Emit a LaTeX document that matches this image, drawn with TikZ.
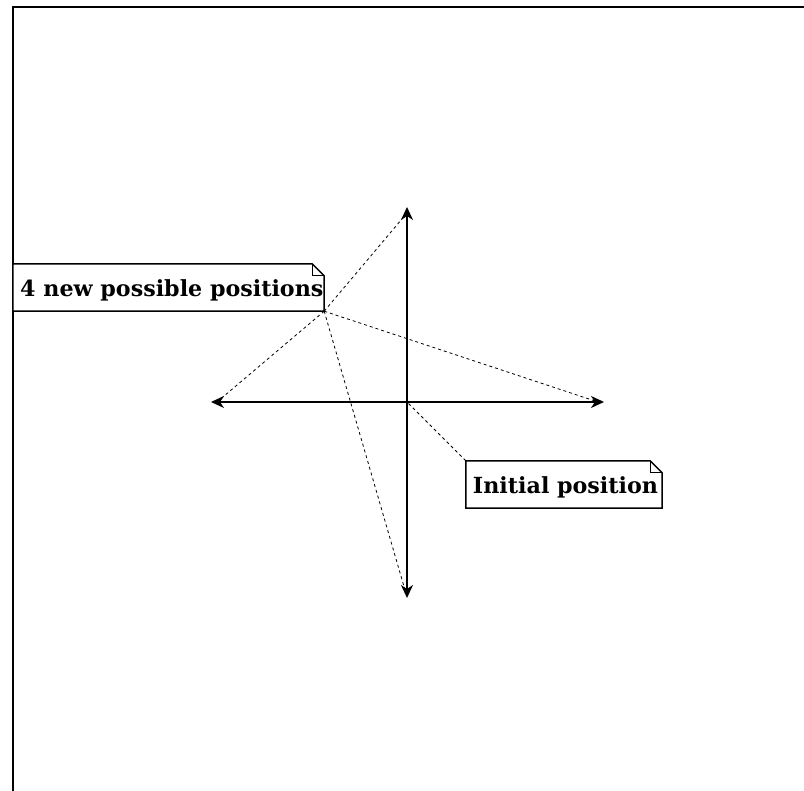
\documentclass[tikz,border=0pt]{standalone}
\usepackage{fontspec}
\setmainfont{DejaVu Serif}
\usetikzlibrary{arrows.meta}
\begin{document}
\begin{tikzpicture}[x=1pt,y=1pt,
  axis/.style={line width=1.5pt,-{Stealth[length=13pt,width=12pt,inset=4pt]}},
  guide/.style={line width=0.8pt,dash pattern=on 3pt off 3pt},
  notebox/.style={draw=none,inner sep=0pt},
  notetext/.style={inner sep=0pt,font=\bfseries\fontsize{22.2}{26}\selectfont}
]
\useasboundingbox (0,0) rectangle (804,791);
% frame
\coordinate (fbl) at (13,0);
\coordinate (ftl) at (13,784);
\coordinate (ftr) at (804,784);
\draw[line width=1.6pt] (fbl) -- (ftl) -- (ftr);
% axes
\coordinate (c) at (407,389);
\coordinate (up) at (407,584);
\coordinate (dn) at (407,193);
\coordinate (lf) at (211,389);
\coordinate (rt) at (604,389);
\draw[axis] (c) -- (up);
\draw[axis] (c) -- (dn);
\draw[axis] (c) -- (lf);
\draw[axis] (c) -- (rt);
% notes
\node[notebox,minimum width=311pt,minimum height=47pt] (n1) at (168.5,503.5) {};
\node[notebox,minimum width=196pt,minimum height=47pt] (n2) at (564,306.5) {};
\foreach \n in {n1,n2}{
  \draw[line width=1.5pt,fill=white] (\n.south west) -- (\n.north west) -- ([xshift=-12pt]\n.north east)
    -- ([yshift=-12pt]\n.north east) -- (\n.south east) -- cycle;
  \draw[line width=0.8pt] ([xshift=-12pt]\n.north east) |- ([yshift=-12pt]\n.north east);
}
\node[notetext,anchor=west] (t1) at (20,501) {4 new possible positions};
\node[notetext] (t2) at (565.5,304) {Initial position};
% guides
\draw[guide] (n1.south east) -- ([yshift=-6pt]up);
\draw[guide] (n1.south east) -- ([xshift=6pt]lf);
\draw[guide] (n1.south east) -- ([xshift=-6pt]rt);
\draw[guide] (n1.south east) -- ([xshift=-2pt,yshift=8pt]dn);
\draw[guide] (n2.north west) -- (c);
\end{tikzpicture}
\end{document}
